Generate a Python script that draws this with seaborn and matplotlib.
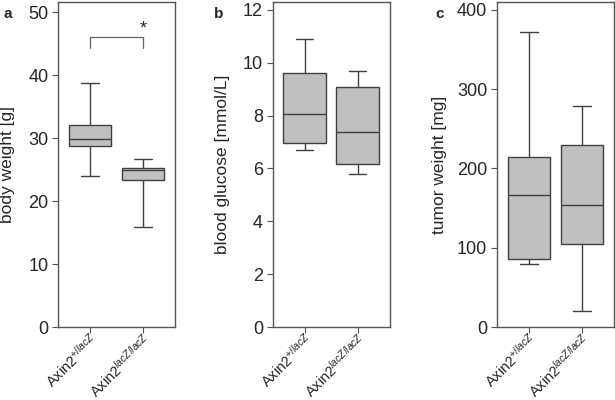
import matplotlib
matplotlib.use("Agg")
import matplotlib.pyplot as plt
import matplotlib.transforms as mtrans
import seaborn as sns
import pandas as pd

# ---- data (five-number summaries: min, Q1, median, Q3, max)
groups = ["Axin2$^{\\mathit{+/lacZ}}$", "Axin2$^{\\mathit{lacZ/lacZ}}$"]
body_wt = [[24.0, 28.7, 29.8, 32.0, 38.8],
           [15.9, 23.4, 24.9, 25.3, 26.7]]
glucose = [[6.68, 6.98, 8.08, 9.60, 10.89],
           [5.80, 6.16, 7.39, 9.08, 9.69]]
tumor_wt = [[79.6, 85.9, 165.9, 214.7, 372.6],
            [20.2, 104.8, 154.5, 229.9, 278.7]]
ylabels = ["body weight [g]", "blood glucose [mmol/L]", "tumor weight [mg]"]
panel_letters = ["a", "b", "c"]
ylims = [(0, 51.6), (0, 12.3), (0, 410)]
yticks = [[0, 10, 20, 30, 40, 50], [0, 2, 4, 6, 8, 10, 12], [0, 100, 200, 300, 400]]
bracket_y = 46.1
bracket_drop = 1.8
star_y = 46.0

sns.set_theme(style="white")
plt.rcParams["font.family"] = ["Liberation Sans", "DejaVu Sans"]
plt.rcParams["mathtext.fontset"] = "custom"
plt.rcParams["mathtext.rm"] = "Liberation Sans"
plt.rcParams["mathtext.it"] = "Liberation Sans:italic"

fig = plt.figure(figsize=(6.15, 4.0), dpi=100)
lefts = [0.0943, 0.4434, 0.808]
width = 0.19
bottom, top = 0.1825, 0.995
label_x = [-0.37, -0.365, -0.43]
letter_x = [0.012, 0.356, 0.715]
edge = "#404040"
spine_c = "#555555"
shift = mtrans.ScaledTranslation(6 / 100, 0, fig.dpi_scale_trans)

datasets = [body_wt, glucose, tumor_wt]
for i, vals in enumerate(datasets):
    ax = fig.add_axes([lefts[i], bottom, width, top - bottom])
    df = pd.DataFrame({
        "group": [groups[j] for j in range(2) for _ in vals[j]],
        "value": [v for j in range(2) for v in vals[j]],
    })
    sns.boxplot(data=df, x="group", y="value", ax=ax, whis=(0, 100), width=0.8,
                color="#c0c0c0", saturation=1, linewidth=1.0, linecolor=edge,
                showfliers=False, capwidths=0.33)
    ax.set_xlim(-0.6, 1.6)
    ax.set_ylim(*ylims[i])
    ax.set_yticks(yticks[i])
    ax.set_xlabel("")
    ax.set_ylabel(ylabels[i], fontsize=12.5)
    ax.yaxis.set_label_coords(label_x[i], 0.5)
    ax.tick_params(axis="y", labelsize=13, length=4, width=0.8, color=spine_c,
                   left=True, direction="out", pad=3)
    ax.tick_params(axis="x", length=4, width=0.8, color=spine_c, bottom=True,
                   direction="out", pad=3)
    ax.set_xticks([0, 1])
    ax.set_xticklabels(groups, rotation=45, ha="right", va="center",
                       rotation_mode="anchor", fontsize=10.5)
    for lab in ax.get_xticklabels():
        lab.set_transform(lab.get_transform() + shift)
    for s in ax.spines.values():
        s.set_color(spine_c)
        s.set_linewidth(1.0)
        s.set_visible(True)
    fig.text(letter_x[i], 0.965, panel_letters[i], ha="center", va="center",
             fontsize=11, fontweight="bold")
    if i == 0:
        ax.plot([0, 0, 1, 1], [bracket_y - bracket_drop, bracket_y, bracket_y,
                               bracket_y - bracket_drop], color="#666666", lw=0.9)
        ax.text(1, star_y, "*", ha="center", va="bottom", fontsize=13)

fig.savefig("out.png", dpi=100)
